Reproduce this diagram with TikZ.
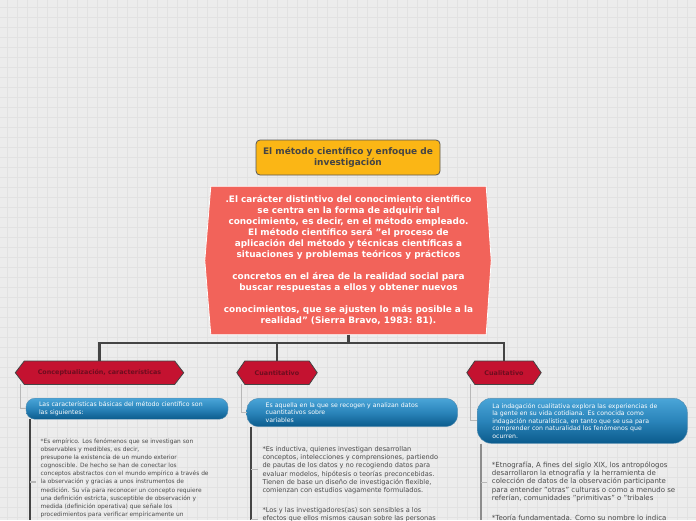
\documentclass[tikz,border=0pt]{standalone}
\usepackage{fontspec}
\setmainfont{DejaVu Sans}
\newcommand\tightls{\lineskiplimit=-5pt\relax}
\newcommand\nohyph{\hyphenpenalty=10000\relax}
\usetikzlibrary{calc,backgrounds}
\definecolor{bgc}{HTML}{ECECEC}
\definecolor{gridc}{HTML}{E2E2E2}
\definecolor{orangec}{HTML}{FBB615}
\definecolor{redc}{HTML}{F2635A}
\definecolor{crimc}{HTML}{C41230}
\definecolor{crimtext}{HTML}{6E0D1F}
\definecolor{bluetop}{HTML}{4AA5D8}
\definecolor{bluemid}{HTML}{2A84BA}
\definecolor{bluebot}{HTML}{0B5B8C}
\definecolor{darkc}{HTML}{444444}
\definecolor{textc}{HTML}{4A4A4A}
\tikzset{
  titlebox/.style={draw=darkc!90, fill=orangec, rounded corners=4pt, line width=0.8pt,
    minimum width=184pt, minimum height=35pt, align=center, inner sep=0pt,
    font=\fontsize{9}{10.5}\selectfont\bfseries, text=darkc},
  mainbox/.style={minimum width=275pt, minimum height=148pt, align=center, inner sep=0pt,
    font=\fontsize{8.9}{11}\selectfont\bfseries\tightls, text=white},
  hexbox/.style={minimum height=23pt, inner sep=0pt, align=center,
    font=\fontsize{6.4}{8}\selectfont\bfseries, text=crimtext},
  hexfill/.style={fill=crimc, draw=darkc, line width=0.8pt},
  bluebox/.style={top color=bluetop, bottom color=bluebot, middle color=bluemid,
    draw=bluebot!70!white, line width=0.4pt, inner ysep=0pt, align=left, text=white,
    font=\fontsize{6.2}{7.6}\selectfont\tightls\nohyph},
  tree/.style={draw=darkc, line width=2.5pt},
  thinconn/.style={draw=black!28, line width=1.1pt},
  vline/.style={draw=darkc, line width=1.6pt},
  vlinelight/.style={draw=black!45, line width=1.6pt},
  tickline/.style={draw=black!28, line width=1.1pt},
  bodytext/.style={anchor=north west, inner sep=0pt, align=left, text=textc},
}
\begin{document}
\begin{tikzpicture}[x=1pt,y=-1pt]
\useasboundingbox (0,0) rectangle (696,520);
\begin{scope}[on background layer]
  \fill[bgc] (0,0) rectangle (696,520);
  \foreach \i in {7,17,...,697} \draw[gridc, line width=0.8pt] (\i,0) -- (\i,520);
  \foreach \j in {7,17,...,517} \draw[gridc, line width=0.8pt] (0,\j) -- (696,\j);
\end{scope}

% title
\node[titlebox] (title) at (348,157.5) {El método científico y enfoque de\\investigación};

% main red box
\node[mainbox] (main) at (348.5,260.5) {.El carácter distintivo del conocimiento científico\\
se centra en la forma de adquirir tal\\
conocimiento, es decir, en el método empleado.\\
El método científico será "el proceso de\\
aplicación del método y técnicas científicas a\\
situaciones y problemas teóricos y prácticos\\[11pt]
concretos en el área de la realidad social para\\
buscar respuestas a ellos y obtener nuevos\\[11pt]
conocimientos, que se ajusten lo más posible a la\\
realidad" (Sierra Bravo, 1983: 81).};
\begin{scope}[on background layer]
  \fill[redc, draw=white, line width=0.8pt] (main.north west) -- (main.north east) -- ([xshift=5]main.east)
    -- (main.south east) -- (main.south west) -- ([xshift=-6]main.west) -- cycle;
\end{scope}

% hexagons
\node[hexbox, minimum width=150pt] (h1) at (99.5,372.7) {Conceptualización, características};
\node[hexbox, minimum width=64pt] (h2) at (277,372.7) {Cuantitativo};
\node[hexbox, minimum width=58pt] (h3) at (504,372.7) {Cualitativo};
\begin{scope}[on background layer]
  \foreach \h/\p in {h1/9,h2/8,h3/8} {
    \draw[hexfill] (\h.north west) -- (\h.north east) -- ([xshift=\p]\h.east)
      -- (\h.south east) -- (\h.south west) -- ([xshift=-\p]\h.west) -- cycle;
  }
\end{scope}

% tree connectors
\draw[tree] (main.south) -- ++(0,8.5) coordinate (junc);
\draw[tree] (junc) -| (h1.north);
\draw[tree] (junc) -| (h2.north);
\draw[tree] (junc) -| (h3.north);

% blue boxes
\node[bluebox, rounded corners=9pt, minimum width=202pt, minimum height=21pt, text width=176pt, inner xsep=13pt] (b1) at (127,408.7)
  {Las características básicas del método científico son\\las siguientes:};
\node[bluebox, rounded corners=12pt, minimum width=211pt, minimum height=28.4pt, text width=173pt, inner xsep=19pt] (b2) at (352.2,412.5)
  {Es aquella en la que se recogen y analizan datos\\cuantitativos sobre\\variables};
\node[bluebox, rounded corners=14pt, minimum width=210pt, minimum height=45pt, text width=180pt, inner xsep=15pt] (b3) at (582.3,420.8)
  {La indagación cualitativa explora las experiencias de\\la gente en su vida cotidiana. Es conocida como\\indagación naturalística, en tanto que se usa para\\comprender con naturalidad los fenómenos que\\ocurren.};

\draw[thinconn] ([xshift=-4]h1.south west) |- (b1.west);
\draw[thinconn] ([xshift=-3]h2.south west) |- (b2.west);
\draw[thinconn] ([xshift=-4]h3.south west) |- (b3.west);

% vertical lines below blue boxes
\coordinate (e1) at (30,520);
\coordinate (e2) at (251,520);
\coordinate (e3) at (481,520);
\draw[vline] (b1.south -| e1) -- (e1);
\draw[vline] (b2.south -| e2) -- (e2);
\draw[vlinelight] (b3.south -| e3) -- (e3);

% body texts
\node[bodytext, font=\fontsize{5.9}{8.1}\selectfont\tightls] (t1) at (40.5,438.5) {*Es empírico. Los fenómenos que se investigan son\\
observables y medibles, es decir,\\
presupone la existencia de un mundo exterior\\
cognoscible. De hecho se han de conectar los\\
conceptos abstractos con el mundo empírico a través de\\
la observación y gracias a unos instrumentos de\\
medición. Su vía para reconocer un concepto requiere\\
una definición estricta, susceptible de observación y\\
medida (definición operativa) que señale los\\
procedimientos para verificar empíricamente un};
\node[bodytext, font=\fontsize{6.6}{8.1}\selectfont\tightls] (t2a) at (262.3,446.5) {*Es inductiva, quienes investigan desarrollan\\
conceptos, intelecciones y comprensiones, partiendo\\
de pautas de los datos y no recogiendo datos para\\
evaluar modelos, hipótesis o teorías preconcebidas.\\
Tienen de base un diseño de investigación flexible,\\
comienzan con estudios vagamente formulados.};
\node[bodytext, font=\fontsize{6.6}{8.1}\selectfont\tightls] (t2b) at (262.3,507.5) {*Los y las investigadores(as) son sensibles a los\\
efectos que ellos mismos causan sobre las personas};
\node[bodytext, font=\fontsize{7}{8.3}\selectfont\tightls] (t3a) at (491.7,461.5) {*Etnografía, A fines del siglo XIX, los antropólogos\\
desarrollaron la etnografía y la herramienta de\\
colección de datos de la observación participante\\
para entender "otras" culturas o como a menudo se\\
referían, comunidades "primitivas" o "tribales};
\node[bodytext, font=\fontsize{7}{8.3}\selectfont] (t3b) at (491.7,514.5) {*Teoría fundamentada. Como su nombre lo indica};

% ticks
\draw[tickline] (30,482) -- ++(6,0);
\draw[tickline] (251,469.3) -- ++(7,0);
\draw[tickline] (251,519.3) -- ++(7,0);
\draw[tickline] (481,482.7) -- ++(6,0);
\end{tikzpicture}
\end{document}
